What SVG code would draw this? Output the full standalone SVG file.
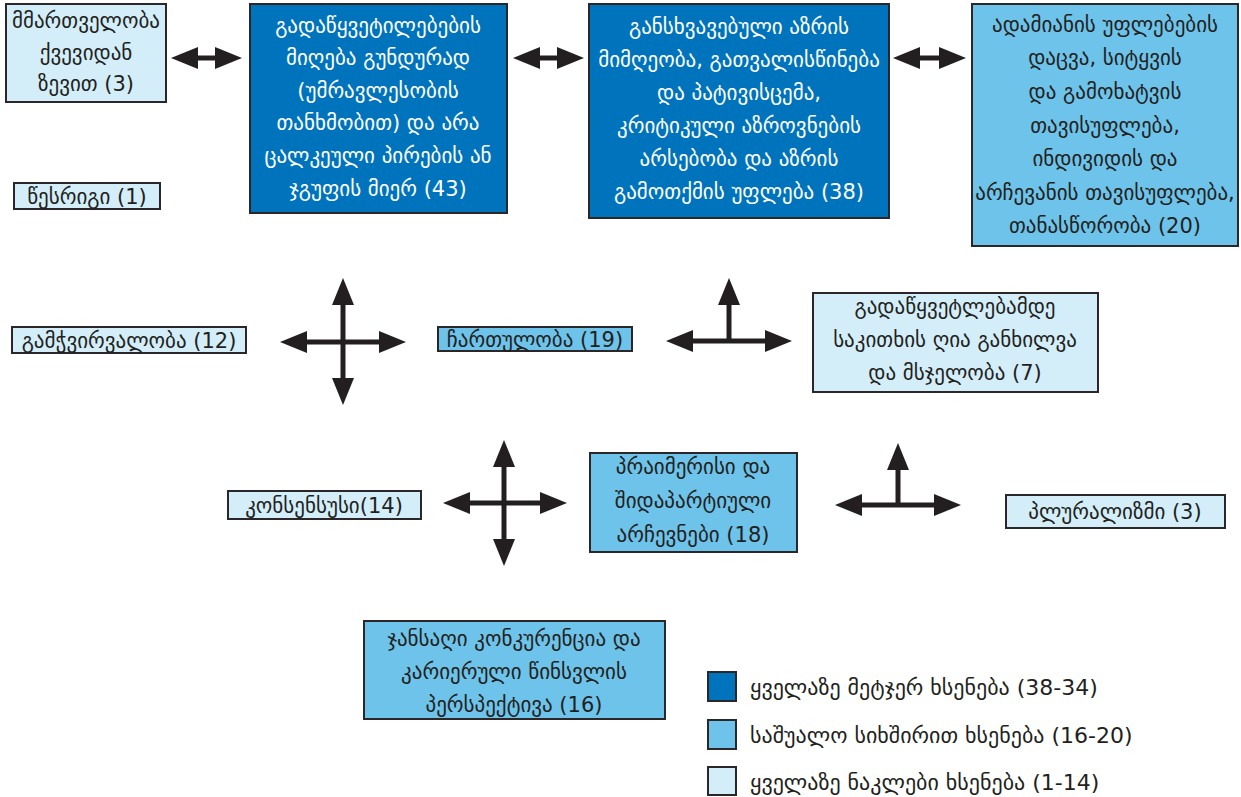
<svg xmlns="http://www.w3.org/2000/svg" width="1241" height="797" viewBox="0 0 1241 797">
<style>
  .box{stroke:#2b2627;stroke-width:2}
  .dark{fill:#0073bd}
  .mid{fill:#6dc3ea}
  .light{fill:#d3eef9}
  text{font-family:"DejaVu Sans","Noto Sans",sans-serif;font-size:21px;text-anchor:middle;fill:#231f20}
  .w{fill:#ffffff}
  .lg{text-anchor:start;font-size:22px}
  .arr{stroke:#231f20;stroke-width:5;fill:none;marker-end:url(#ah)}
  .arr2{stroke:#231f20;stroke-width:5;fill:none;marker-start:url(#ah);marker-end:url(#ah)}
</style>
<defs>
  <marker id="ah" markerUnits="userSpaceOnUse" markerWidth="30" markerHeight="24" viewBox="0 -12 28 24" refX="1" refY="0" orient="auto-start-reverse">
    <path d="M0,-11 L27,0 L0,11 z" fill="#231f20"/>
  </marker>
</defs>
<rect width="1241" height="797" fill="#ffffff"/>

<g id="connectors">
  <line class="arr2" x1="197" y1="58" x2="216" y2="58"/>
  <line class="arr2" x1="539" y1="58" x2="558" y2="58"/>
  <line class="arr2" x1="919" y1="58" x2="940" y2="58"/>
  <line class="arr2" x1="343" y1="304" x2="343" y2="379"/>
  <line class="arr2" x1="306" y1="342" x2="380" y2="342"/>
  <line class="arr2" x1="692" y1="341" x2="766" y2="341"/>
  <line class="arr" x1="729" y1="343" x2="729" y2="304"/>
  <line class="arr2" x1="504" y1="466" x2="504" y2="540"/>
  <line class="arr2" x1="469" y1="503" x2="541" y2="503"/>
  <line class="arr2" x1="861" y1="505" x2="935" y2="505"/>
  <line class="arr" x1="898" y1="507" x2="898" y2="469"/>
</g>

<g id="n-mmartveloba">
  <rect class="box light" x="6" y="4" width="160" height="98"/>
  <text x="86" y="28">მმართველობა</text>
  <text x="86" y="60">ქვევიდან</text>
  <text x="86" y="91">ზევით (3)</text>
</g>
<g id="n-tsesrigi">
  <rect class="box light" x="14" y="183" width="146" height="26"/>
  <text x="87" y="204">წესრიგი (1)</text>
</g>
<g id="n-gadatsyvetilebebi">
  <rect class="box dark" x="250" y="4" width="257" height="209"/>
  <text class="w" x="378" y="33">გადაწყვეტილებების</text>
  <text class="w" x="378" y="65">მიღება გუნდურად</text>
  <text class="w" x="378" y="98">(უმრავლესობის</text>
  <text class="w" x="378" y="130">თანხმობით) და არა</text>
  <text class="w" x="378" y="163">ცალკეული პირების ან</text>
  <text class="w" x="378" y="196">ჯგუფის მიერ (43)</text>
</g>
<g id="n-gansxvavebuli">
  <rect class="box dark" x="589" y="4" width="300" height="214"/>
  <text class="w" x="739" y="34">განსხვავებული აზრის</text>
  <text class="w" x="739" y="67">მიმღეობა, გათვალისწინება</text>
  <text class="w" x="739" y="100">და პატივისცემა,</text>
  <text class="w" x="739" y="133">კრიტიკული აზროვნების</text>
  <text class="w" x="739" y="166">არსებობა და აზრის</text>
  <text class="w" x="739" y="199">გამოთქმის უფლება (38)</text>
</g>
<g id="n-adamianis">
  <rect class="box mid" x="972" y="4" width="266" height="242"/>
  <text x="1105" y="32">ადამიანის უფლებების</text>
  <text x="1105" y="65">დაცვა, სიტყვის</text>
  <text x="1105" y="99">და გამოხატვის</text>
  <text x="1105" y="133">თავისუფლება,</text>
  <text x="1105" y="166">ინდივიდის და</text>
  <text x="1105" y="200">არჩევანის თავისუფლება,</text>
  <text x="1105" y="233">თანასწორობა (20)</text>
</g>
<g id="n-gamchvirvaloba">
  <rect class="box light" x="12" y="327" width="234" height="26"/>
  <text x="129" y="348">გამჭვირვალობა (12)</text>
</g>
<g id="n-chartuloba">
  <rect class="box mid" x="438" y="327" width="194" height="24"/>
  <text x="535" y="347">ჩართულობა (19)</text>
</g>
<g id="n-gankhilva">
  <rect class="box light" x="813" y="293" width="285" height="99"/>
  <text x="955" y="314">გადაწყვეტლებამდე</text>
  <text x="955" y="347">საკითხის ღია განხილვა</text>
  <text x="955" y="380">და მსჯელობა (7)</text>
</g>
<g id="n-konsensusi">
  <rect class="box light" x="228" y="491" width="193" height="28"/>
  <text x="324" y="513">კონსენსუსი(14)</text>
</g>
<g id="n-praimerisi">
  <rect class="box mid" x="590" y="453" width="207" height="99"/>
  <text x="693" y="474">პრაიმერისი და</text>
  <text x="693" y="508">შიდაპარტიული</text>
  <text x="693" y="542">არჩევნები  (18)</text>
</g>
<g id="n-pluralizmi">
  <rect class="box light" x="1006" y="495" width="219" height="33"/>
  <text x="1115" y="519">პლურალიზმი (3)</text>
</g>
<g id="n-jansaghi">
  <rect class="box mid" x="364" y="621" width="301" height="98"/>
  <text x="514" y="646">ჯანსაღი კონკურენცია და</text>
  <text x="514" y="679">კარიერული წინსვლის</text>
  <text x="514" y="712">პერსპექტივა (16)</text>
</g>
<g id="legend">
  <rect class="box dark" x="708" y="672" width="28" height="29"/>
  <text class="lg" x="750" y="695">ყველაზე მეტჯერ ხსენება (38-34)</text>
  <rect class="box mid" x="708" y="720" width="28" height="29"/>
  <text class="lg" x="750" y="743">საშუალო სიხშირით ხსენება (16-20)</text>
  <rect class="box light" x="708" y="767" width="28" height="28"/>
  <text class="lg" x="750" y="790">ყველაზე ნაკლები ხსენება (1-14)</text>
</g>
</svg>
